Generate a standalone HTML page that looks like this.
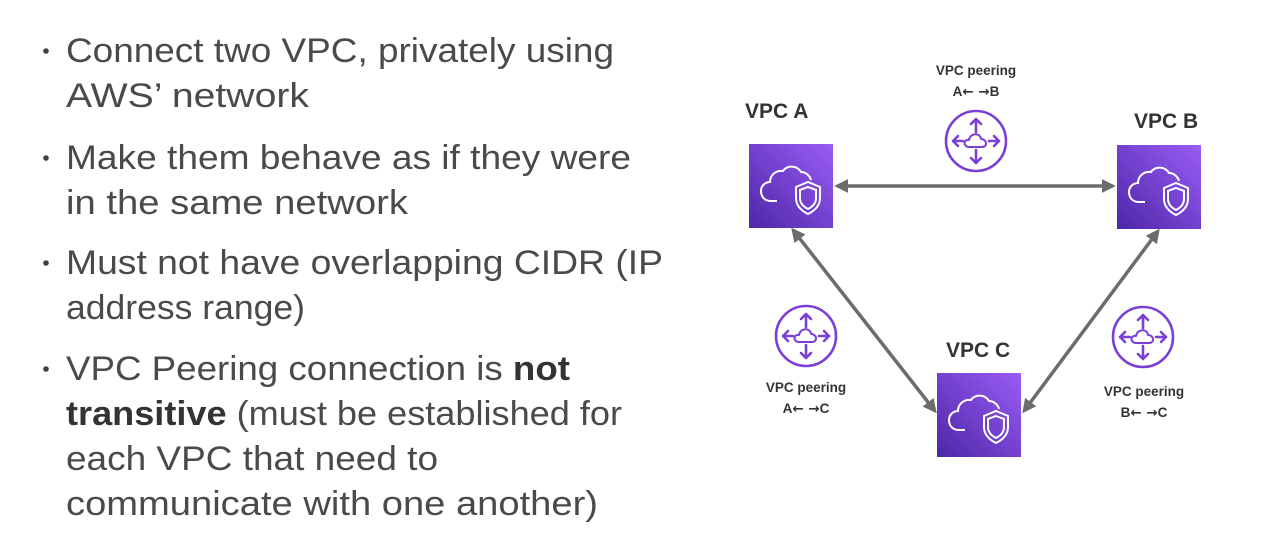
<!DOCTYPE html>
<html><head><meta charset="utf-8"><style>
html,body{margin:0;padding:0;background:#fff;width:1267px;height:542px;overflow:hidden}
</style></head><body>
<svg width="1267" height="542" viewBox="0 0 1267 542" xmlns="http://www.w3.org/2000/svg">
<defs>
<linearGradient id="g" x1="0" y1="1" x2="1" y2="0">
<stop offset="0" stop-color="#4d27a8"/><stop offset="1" stop-color="#9a5cf5"/></linearGradient>
<marker id="ah" viewBox="0 0 10 10" refX="8" refY="5" markerWidth="4" markerHeight="4" orient="auto-start-reverse">
<path d="M0,0 L10,5 L0,10 z" fill="#6b6d6d"/></marker>
<g id="vpc">
<rect x="0" y="0" width="84" height="84" fill="url(#g)"/>
<path d="M28,57 H22 C15,57 12,52 12,47 C12,42 16,38 21,38 C21,31 27,26 34,27 C38,21 48,21 52,28 C57,28 61,32 62,36" fill="none" stroke="#fff" stroke-width="2"/>
<path d="M59,38 L71,43 V54 C71,62 65,67 59,70 C53,67 47,62 47,54 V43 Z" fill="none" stroke="#fff" stroke-width="2"/>
<path d="M59,43 L67,46 V54 C67,60 63,63 59,65 C55,63 51,60 51,54 V46 Z" fill="none" stroke="#fff" stroke-width="2"/>
</g>
<g id="peer" fill="none" stroke="#7b3fd6" stroke-width="2.6" stroke-linecap="round" stroke-linejoin="round">
<circle cx="0" cy="0" r="30"/>
<path d="M0,-9 V-22 M-5,-17 L0,-22 L5,-17"/>
<path d="M0,9 V22 M-5,17 L0,22 L5,17"/>
<path d="M-13,0 H-23 M-18,-5 L-23,0 L-18,5"/>
<path d="M13,0 H23 M18,-5 L23,0 L18,5"/>
<path d="M-7,6 C-13,6 -13,-2 -7,-1 C-6,-8 4,-9 5,-2 C11,-2 12,6 6,6 Z" stroke-width="2"/>
</g>
</defs>

<g font-family="'Liberation Sans',sans-serif" font-size="34" fill="#4a4a4a">
<circle cx="46" cy="51" r="2.8" fill="#404040"/>
<circle cx="46" cy="158" r="2.8" fill="#404040"/>
<circle cx="46" cy="263" r="2.8" fill="#404040"/>
<circle cx="46" cy="369" r="2.8" fill="#404040"/>
<text x="66" y="62" textLength="548" lengthAdjust="spacingAndGlyphs">Connect two VPC, privately using</text>
<text x="66" y="107" textLength="243" lengthAdjust="spacingAndGlyphs">AWS’ network</text>
<text x="66" y="169" textLength="565" lengthAdjust="spacingAndGlyphs">Make them behave as if they were</text>
<text x="66" y="214" textLength="342" lengthAdjust="spacingAndGlyphs">in the same network</text>
<text x="66" y="274" textLength="597" lengthAdjust="spacingAndGlyphs">Must not have overlapping CIDR (IP</text>
<text x="66" y="319" textLength="239" lengthAdjust="spacingAndGlyphs">address range)</text>
<text x="66" y="380" textLength="504" lengthAdjust="spacingAndGlyphs">VPC Peering connection is <tspan font-weight="bold" fill="#333">not</tspan></text>
<text x="66" y="425" textLength="556" lengthAdjust="spacingAndGlyphs"><tspan font-weight="bold" fill="#333">transitive</tspan> (must be established for</text>
<text x="66" y="470" textLength="372" lengthAdjust="spacingAndGlyphs">each VPC that need to</text>
<text x="66" y="515" textLength="532" lengthAdjust="spacingAndGlyphs">communicate with one another)</text>
</g>

<g stroke="#6b6d6d" stroke-width="3.5" marker-start="url(#ah)" marker-end="url(#ah)">
<line x1="837" y1="186" x2="1113" y2="186"/>
<line x1="793" y1="230" x2="935" y2="411"/>
<line x1="1158" y1="231" x2="1024" y2="411"/>
</g>

<use href="#vpc" x="749" y="144"/>
<use href="#vpc" x="1117" y="145"/>
<use href="#vpc" x="937" y="373"/>
<use href="#peer" x="976" y="141"/>
<use href="#peer" x="806" y="336"/>
<use href="#peer" x="1143" y="337"/>

<g font-family="'Liberation Sans',sans-serif" font-weight="bold" fill="#333">
<text x="745" y="118" font-size="21">VPC A</text>
<text x="1134" y="128" font-size="21">VPC B</text>
<text x="946" y="357" font-size="21">VPC C</text>
<g font-size="13.5" text-anchor="middle">
<text x="976" y="75">VPC peering</text>
<text x="976" y="96">A<tspan font-family="'DejaVu Sans',sans-serif">← →</tspan>B</text>
<text x="806" y="392">VPC peering</text>
<text x="806" y="413">A<tspan font-family="'DejaVu Sans',sans-serif">← →</tspan>C</text>
<text x="1144" y="396">VPC peering</text>
<text x="1144" y="417">B<tspan font-family="'DejaVu Sans',sans-serif">← →</tspan>C</text>
</g>
</g>
</svg>
</body></html>
